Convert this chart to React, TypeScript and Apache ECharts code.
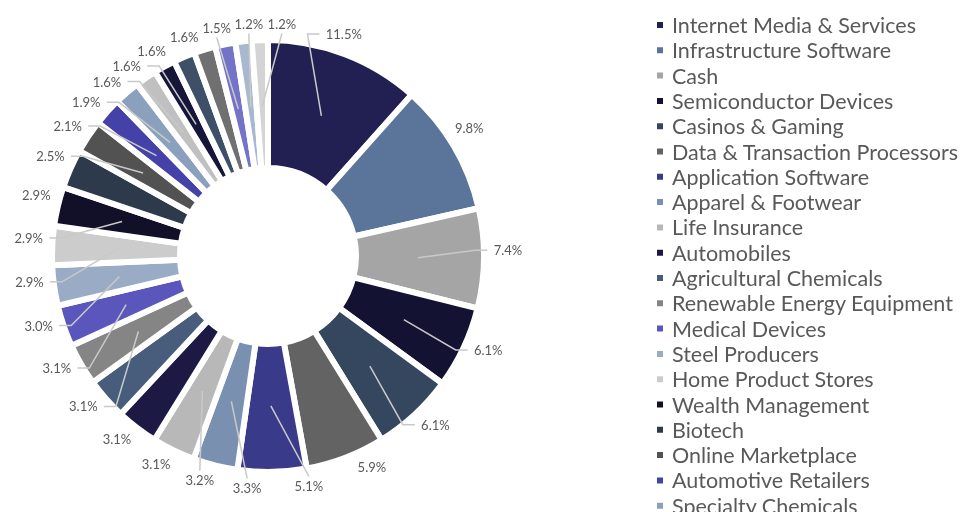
import React, { useEffect, useRef } from "react";
import * as echarts from "echarts";

const categories = [
  "Internet Media & Services",
  "Infrastructure Software",
  "Cash",
  "Semiconductor Devices",
  "Casinos & Gaming",
  "Data & Transaction Processors",
  "Application Software",
  "Apparel & Footwear",
  "Life Insurance",
  "Automobiles",
  "Agricultural Chemicals",
  "Renewable Energy Equipment",
  "Medical Devices",
  "Steel Producers",
  "Home Product Stores",
  "Wealth Management",
  "Biotech",
  "Online Marketplace",
  "Automotive Retailers",
  "Specialty Chemicals",
  "Aerospace & Defense",
  "Banks",
  "Restaurants",
  "Insurance Brokers",
  "Oil & Gas Producers",
  "Specialty Retail",
  "Entertainment Content",
];

const values = [
  11.5, 9.8, 7.4, 6.1, 6.1, 5.9, 5.1, 3.3, 3.2, 3.1, 3.1, 3.1, 3.1, 3.0, 2.9,
  2.9, 2.9, 2.5, 2.1, 1.9, 1.6, 1.6, 1.6, 1.6, 1.5, 1.2, 1.2,
];

const colors = [
  "#222052", "#5a7599", "#a5a5a5", "#141232", "#34475e", "#636363", "#3a3a8a",
  "#7a90b0", "#b8b8b8", "#1c1a45", "#475d7b", "#858585", "#5a56bb", "#9aabc5",
  "#cccccc", "#111028", "#2c3a4c", "#525252", "#4441a8", "#8aa0bc", "#c0c0c0",
  "#16153a", "#3d5068", "#707070", "#7373c8", "#a8b8d0", "#d4d4d4",
];

// indices of slices whose labels use a leader line (styling)
const leaderLines = [0, 2, 3, 4, 6, 7, 8, 11, 12, 13, 14, 15, 17, 18, 19, 20, 21, 24, 25, 26];
const legendCount = 20;

const FONT = "Lato, 'Open Sans', sans-serif";
const CX = 268;
const CY = 256;
const R_IN = 88;
const R_OUT = 216;
const R_LINE = 150;
const LABEL_H = 15;

const fmt = (v: number) => v.toFixed(1) + "%";
const textW = (s: string) => {
  let w = 0;
  for (const ch of s) w += ch === "." ? 3.4 : ch === "%" ? 10.7 : 7.5;
  return w;
};

// label placement rule (Excel-like outside labels, spread to avoid overlap)
function computeLabelLayout() {
  const total = values.reduce((a, b) => a + b, 0);
  const mids: number[] = [];
  let acc = 0;
  values.forEach((v) => {
    mids.push(((acc + v / 2) / total) * 360);
    acc += v;
  });
  const rot = (t: number) => {
    if (t < 150) return -2;
    if (t < 170) return -2 - (7 * (t - 150)) / 20;
    if (t < 322) return -9;
    if (t < 350) return -9 + (9 * (t - 322)) / 28;
    return 0;
  };
  const phi = mids.map((t) => t + rot(t));
  const widths = values.map((v) => textW(fmt(v)));
  const pos = (a: number) => {
    const r = (a * Math.PI) / 180;
    const s = Math.sin(r);
    const c = Math.cos(r);
    const R = 232 + 8 * Math.abs(s);
    return [CX + R * s, CY - R * c];
  };
  const n = values.length;
  for (let it = 0; it < 400; it++) {
    let moved = false;
    for (let k = 0; k < n; k++) {
      const i = k;
      const j = (k + 1) % n;
      const [xi, yi] = pos(phi[i]);
      const [xj, yj] = pos(phi[j]);
      if (
        Math.abs(xi - xj) < (widths[i] + widths[j]) / 2 + 3 &&
        Math.abs(yi - yj) < LABEL_H
      ) {
        phi[i] -= 0.2;
        phi[j] += 0.2;
        moved = true;
      }
    }
    if (!moved) break;
  }
  return mids.map((t, i) => {
    const [x, y] = pos(phi[i]);
    const tr = (t * Math.PI) / 180;
    const p0 = [CX + R_LINE * Math.sin(tr), CY - R_LINE * Math.cos(tr)];
    let pts: number[][];
    if (Math.abs(x - CX) < 70 && Math.abs(y - CY) > 190) {
      const s = y < CY ? 1 : -1;
      const end = [x, y + s * (LABEL_H / 2 + 2)];
      pts = [p0, end, end];
    } else {
      const s = x > CX ? -1 : 1;
      const edge = x + (s * widths[i]) / 2;
      pts = [p0, [edge + s * 18, y], [edge + s * 6, y]];
    }
    return { x, y, pts };
  });
}

export default function App() {
  const ref = useRef<HTMLDivElement>(null);

  useEffect(() => {
    const chart = echarts.init(ref.current!, null, { renderer: "svg" });
    const layout = computeLabelLayout();
    chart.setOption({
      animation: false,
      legend: {
        orient: "vertical",
        left: 655,
        top: 14,
        padding: 0,
        height: 900,
        icon: "rect",
        itemWidth: 8,
        itemHeight: 8,
        itemGap: 3.3,
        selectedMode: false,
        data: categories.slice(0, legendCount),
        textStyle: {
          fontSize: 21.5,
          lineHeight: 21.5,
          color: "#595959",
          fontFamily: FONT,
          padding: [0, 0, 0, 3],
        },
      },
      series: [
        {
          type: "pie",
          radius: [R_IN, R_OUT],
          center: [CX, CY],
          silent: true,
          data: categories.map((name, i) => ({
            name,
            value: values[i],
            itemStyle: { color: colors[i] },
          })),
          itemStyle: { borderColor: "#ffffff", borderWidth: 6 },
          label: { show: false },
          labelLine: { show: false },
        },
        {
          type: "pie",
          radius: [0, R_LINE],
          center: [CX, CY],
          silent: true,
          z: 3,
          legendHoverLink: false,
          avoidLabelOverlap: false,
          data: categories.map((name, i) => ({
            name: "lbl-" + name,
            value: values[i],
            labelLine: { show: leaderLines.includes(i) },
          })),
          itemStyle: { color: "rgba(0,0,0,0)", borderWidth: 0 },
          label: {
            position: "outside",
            formatter: (p: any) => fmt(Number(p.value)),
            color: "#595959",
            fontSize: 13,
            fontFamily: FONT,
          },
          labelLine: {
            length: 70,
            length2: 8,
            lineStyle: { color: "#c9c9c9", width: 1.5 },
          },
          labelLayout: (p: any) => {
            const l = layout[p.dataIndex];
            return {
              x: l.x,
              y: l.y,
              align: "center",
              verticalAlign: "middle",
              labelLinePoints: l.pts,
            };
          },
        },
      ],
    });
    return () => chart.dispose();
  }, []);

  return (
    <div
      ref={ref}
      style={{ position: "fixed", left: 0, top: 0, width: 961, height: 512 }}
    />
  );
}
